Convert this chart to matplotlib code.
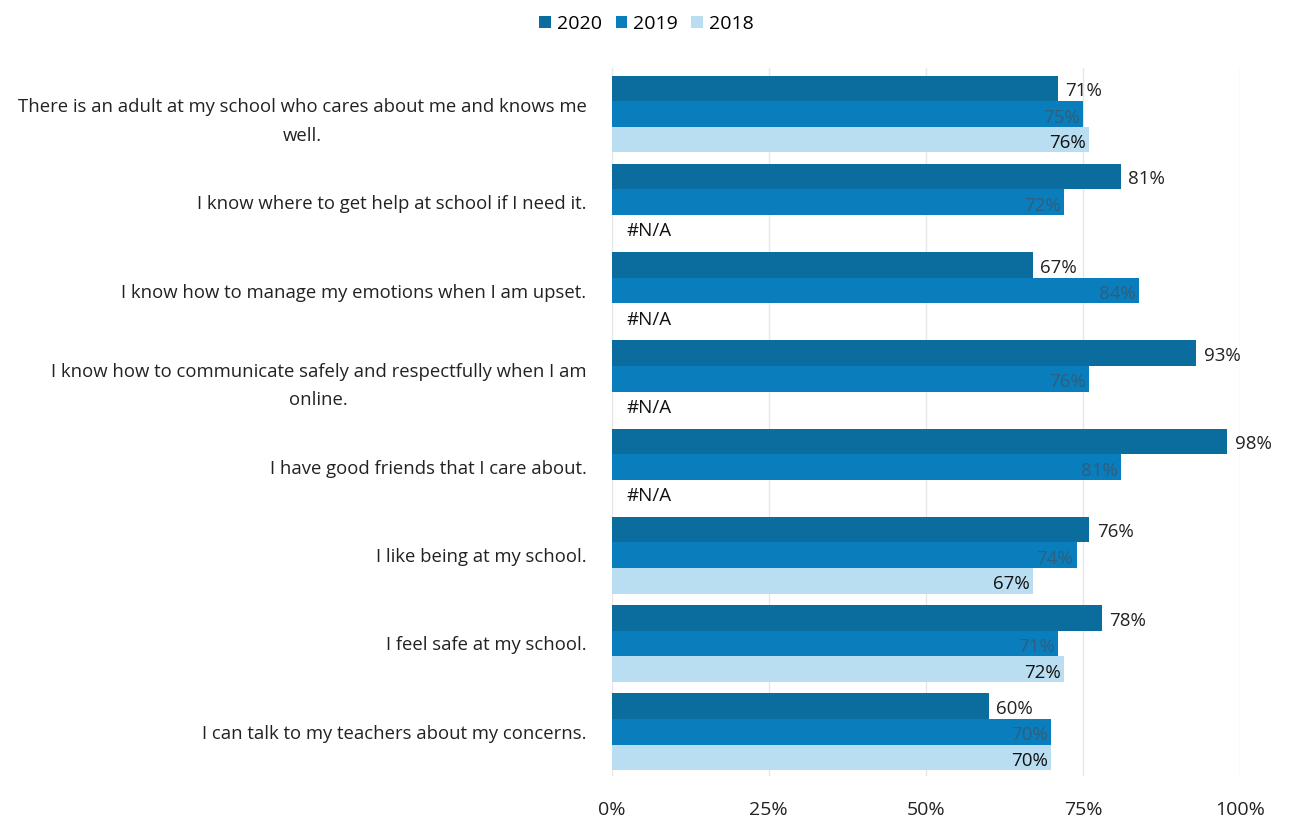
import numpy as np
import matplotlib.pyplot as plt

plt.rcParams['font.family'] = ['Open Sans', 'DejaVu Sans']

# Survey statements (top to bottom) and percent agreeing per year
statements = [
    'There is an adult at my school who cares about me and knows me\nwell.',
    'I know where to get help at school if I need it.',
    'I know how to manage my emotions when I am upset.',
    'I know how to communicate safely and respectfully when I am\nonline.',
    'I have good friends that I care about.',
    'I like being at my school.',
    'I feel safe at my school.',
    'I can talk to my teachers about my concerns.',
]
pct_2020 = [71, 81, 67, 93, 98, 76, 78, 60]
pct_2019 = [75, 72, 84, 76, 81, 74, 71, 70]
pct_2018 = [76, None, None, None, None, 67, 72, 70]

c2020 = '#0b6d9d'
c2019 = '#0a7dbd'
c2018 = '#b9ddf1'

fig = plt.figure(figsize=(12.93, 8.21), dpi=100)
ax = fig.add_axes([0.473, 0.055, 0.486, 0.862])

y = np.arange(len(statements))
h = 0.29

ax.barh(y - h, pct_2020, height=h, color=c2020, label='2020')
ax.barh(y, pct_2019, height=h, color=c2019, label='2019')
vals18 = [v if v is not None else 0 for v in pct_2018]
ax.barh(y + h, vals18, height=h, color=c2018, label='2018')

for i in range(len(statements)):
    ax.text(pct_2020[i] + 1.2, y[i] - h + 0.03, f'{pct_2020[i]}%', va='center', ha='left',
            fontsize=13.5, color='#222222')
    ax.text(pct_2019[i] - 0.5, y[i] + 0.04, f'{pct_2019[i]}%', va='center', ha='right',
            fontsize=13.5, color='#2f5f7c')
    if pct_2018[i] is None:
        ax.text(2.3, y[i] + h + 0.04, '#N/A', va='center', ha='left', fontsize=13.5,
                color='#111111')
    else:
        ax.text(pct_2018[i] - 0.5, y[i] + h + 0.04, f'{pct_2018[i]}%', va='center',
                ha='right', fontsize=13.5, color='#111111')

ax.set_xlim(0, 100)
ax.set_ylim(len(statements) - 0.5, -0.52)
ax.set_xticks([0, 25, 50, 75, 100])
ax.set_xticklabels(['0%', '25%', '50%', '75%', '100%'], fontsize=14, color='#222222')
ax.set_yticks(y)
ax.set_yticklabels(statements, fontsize=13.3, color='#222222', multialignment='center',
                   linespacing=1.75)
ax.tick_params(axis='both', length=0)
ax.tick_params(axis='y', pad=18)
ax.tick_params(axis='x', pad=18)
ax.grid(axis='x', color='#e6e6e6', linewidth=1)
ax.set_axisbelow(True)
for s in ax.spines.values():
    s.set_visible(False)

fig.legend(loc='upper center', bbox_to_anchor=(0.5, 1.003), ncol=3, frameon=False,
           fontsize=14, handlelength=0.6, handleheight=0.6, handletextpad=0.3,
           columnspacing=0.7)

fig.savefig('out.png', dpi=100)
